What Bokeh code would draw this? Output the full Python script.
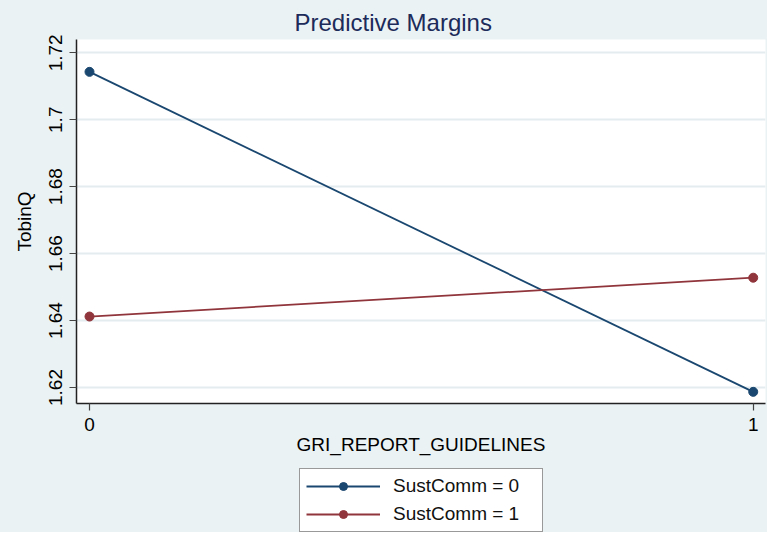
from bokeh.plotting import figure
from bokeh.layouts import column
from bokeh.models import Range1d, FixedTicker, Legend, LegendItem, Title
from bokeh.embed import file_html
from bokeh.resources import INLINE

# ---- data ----
x_vals = [0, 1]
x_tick_labels = ["0", "1"]
sust0 = [1.7143, 1.6187]
sust1 = [1.6412, 1.6528]
series_names = ["SustComm = 0", "SustComm = 1"]
y_ticks = [1.62, 1.64, 1.66, 1.68, 1.70, 1.72]
y_tick_labels = ["1.62", "1.64", "1.66", "1.68", "1.7", "1.72"]

BG = "#eaf2f3"
NAVY = "#1a476f"
MAROON = "#90353b"
FONT = "Liberation Sans"

p = figure(width=767, height=462,
           x_range=Range1d(-0.0196, 1.0185), y_range=Range1d(1.61522, 1.72397),
           output_backend="svg", toolbar_location=None,
           min_border_left=76, min_border_right=2, min_border_top=39, min_border_bottom=59)

p.background_fill_color = "white"
p.border_fill_color = BG
p.outline_line_color = None

t = Title(text="Predictive Margins", align="left", offset=218,
          text_font=FONT, text_font_size="24px", text_font_style="normal",
          text_color="#1c2b5a", standoff=8)
p.add_layout(t, "above")

# grid
p.xgrid.grid_line_color = None
p.ygrid.grid_line_color = "#e4ecf0"
p.ygrid.grid_line_width = 2
p.ygrid.ticker = FixedTicker(ticks=y_ticks)

# axes
p.xaxis.ticker = FixedTicker(ticks=x_vals)
p.xaxis.major_label_overrides = {v: s for v, s in zip(x_vals, x_tick_labels)}
p.yaxis.ticker = FixedTicker(ticks=y_ticks)
p.yaxis.major_label_overrides = {v: s for v, s in zip(y_ticks, y_tick_labels)}
p.yaxis.major_label_orientation = "vertical"
p.xaxis.axis_label = "GRI_REPORT_GUIDELINES"
p.yaxis.axis_label = "TobinQ"
for ax in (p.xaxis, p.yaxis):
    ax.axis_line_color = "#222222"
    ax.axis_line_width = 1.5
    ax.major_tick_line_color = "#444444"
    ax.major_tick_line_width = 1.2
    ax.major_tick_out = 7
    ax.major_tick_in = 0
    ax.minor_tick_line_color = None
    ax.major_label_text_font = FONT
    ax.major_label_text_font_size = "19px"
    ax.major_label_text_color = "black"
    ax.major_label_standoff = 7
    ax.axis_label_text_font = FONT
    ax.axis_label_text_font_size = "19px"
    ax.axis_label_text_font_style = "normal"
    ax.axis_label_text_color = "black"
p.xaxis.axis_label_standoff = 0
p.yaxis.axis_label_standoff = 12

# series
p.line(x_vals, sust0, line_color=NAVY, line_width=1.8)
p.scatter(x_vals, sust0, size=9, fill_color=NAVY, line_color=NAVY)
p.line(x_vals, sust1, line_color=MAROON, line_width=1.8)
p.scatter(x_vals, sust1, size=9, fill_color=MAROON, line_color=MAROON)

# legend strip below the plot (its own ranges keep the series out of view;
# only the legend glyphs are shown there)
q = figure(width=767, height=70, x_axis_type=None, y_axis_type=None,
           x_range=Range1d(5, 6), y_range=Range1d(5, 6),
           output_backend="svg", toolbar_location=None,
           min_border_left=0, min_border_right=0, min_border_top=0, min_border_bottom=0)
q.background_fill_color = BG
q.border_fill_color = BG
q.outline_line_color = None
ql0 = q.line(x_vals, sust0, line_color=NAVY, line_width=1.8)
qc0 = q.scatter(x_vals, sust0, size=9, fill_color=NAVY, line_color=NAVY)
ql1 = q.line(x_vals, sust1, line_color=MAROON, line_width=1.8)
qc1 = q.scatter(x_vals, sust1, size=9, fill_color=MAROON, line_color=MAROON)

legend = Legend(items=[LegendItem(label=series_names[0], renderers=[ql0, qc0]),
                       LegendItem(label=series_names[1], renderers=[ql1, qc1])],
                location=(223, 0), orientation="vertical",
                glyph_width=74, glyph_height=20, label_standoff=13,
                label_width=143, padding=6, spacing=6, margin=0,
                label_text_font=FONT, label_text_font_size="19px",
                label_text_color="#111111",
                border_line_color="#333333", border_line_width=1.2,
                background_fill_color="white", background_fill_alpha=1)
q.add_layout(legend, "center")

layout = column(p, q, spacing=0, styles={"background-color": BG})
open("out.html", "w").write(file_html(layout, INLINE))
